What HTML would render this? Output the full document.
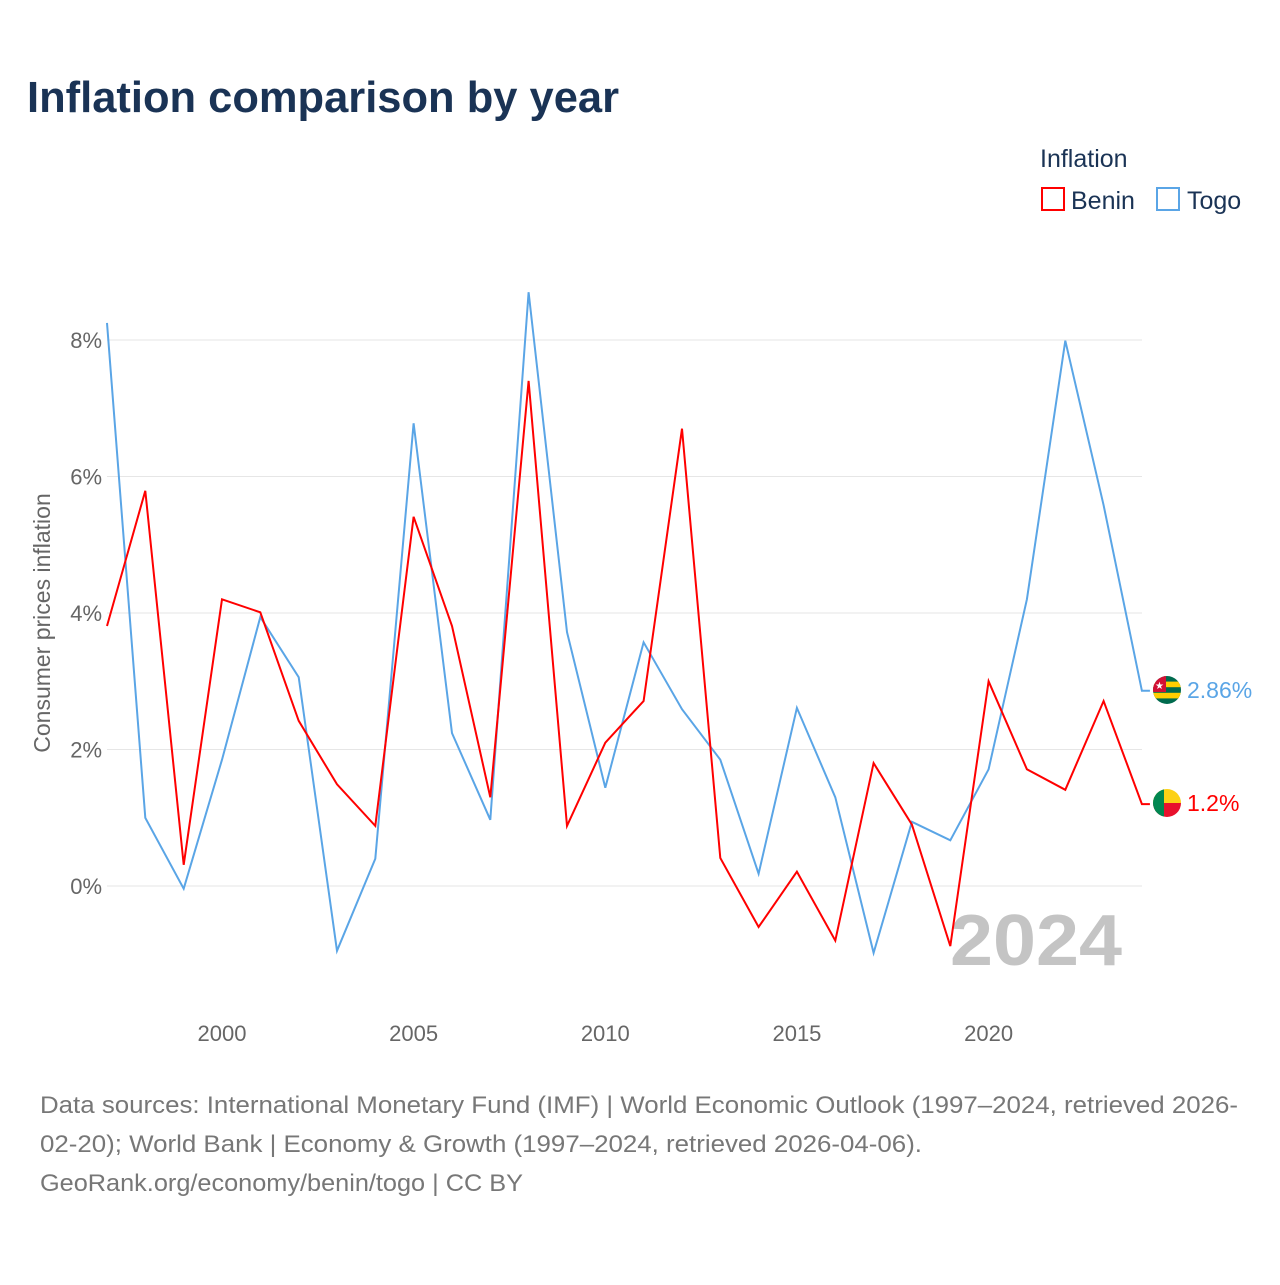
<!DOCTYPE html>
<html><head><meta charset="utf-8"><style>
body{margin:0;background:#fff;font-family:"Liberation Sans",sans-serif}
svg text{font-family:"Liberation Sans",sans-serif}
</style></head><body>
<svg width="1280" height="1280" xmlns="http://www.w3.org/2000/svg">
<text x="27" y="112" font-size="44" font-weight="bold" fill="#1a3355" textLength="592" lengthAdjust="spacingAndGlyphs">Inflation comparison by year</text>
<g>
<text x="1040" y="167" font-size="25" fill="#1a3355">Inflation</text>
<g><rect x="1042" y="188" width="22" height="22" fill="none" stroke="#f00" stroke-width="2"/><text x="1071" y="209" font-size="25" fill="#1a3355">Benin</text></g>
<g><rect x="1157" y="188" width="22" height="22" fill="none" stroke="#5aa5e6" stroke-width="2"/><text x="1187" y="209" font-size="25" fill="#1a3355">Togo</text></g>
</g>
<text transform="translate(50,623) rotate(-90)" text-anchor="middle" font-size="23" fill="#666">Consumer prices inflation</text>
<g id="grid"></g><g id="xt"></g>
<text x="950" y="965" font-size="72" font-weight="bold" fill="#c4c4c4" textLength="172" lengthAdjust="spacingAndGlyphs">2024</text>
<g id="lines"></g>
<g><clipPath id="cT"><circle cx="1167" cy="690" r="14"/></clipPath><g clip-path="url(#cT)"><rect x="1153" y="676" width="28" height="28" fill="#006a4e"/><rect x="1153" y="681.6" width="28" height="5.6" fill="#ffce00"/><rect x="1153" y="692.8" width="28" height="5.6" fill="#ffce00"/><rect x="1153" y="676" width="13" height="16" fill="#d21034"/><text x="1159.5" y="689" font-size="10" fill="#fff" text-anchor="middle">★</text></g></g>
<g><clipPath id="cB"><circle cx="1167" cy="803" r="14"/></clipPath><g clip-path="url(#cB)"><rect x="1153" y="789" width="28" height="14" fill="#fcd116"/><rect x="1153" y="803" width="28" height="14" fill="#e8112d"/><rect x="1153" y="789" width="11" height="28" fill="#008751"/></g></g>
<text x="1187" y="698" font-size="23" fill="#5aa5e6">2.86%</text>
<text x="1187" y="811" font-size="23" fill="#f00">1.2%</text>
<g font-size="24" fill="#777">
<text x="40" y="1113" textLength="1198" lengthAdjust="spacingAndGlyphs">Data sources: International Monetary Fund (IMF) | World Economic Outlook (1997–2024, retrieved 2026-</text>
<text x="40" y="1152" textLength="882" lengthAdjust="spacingAndGlyphs">02-20); World Bank | Economy &amp; Growth (1997–2024, retrieved 2026-04-06).</text>
<text x="40" y="1191" textLength="483" lengthAdjust="spacingAndGlyphs">GeoRank.org/economy/benin/togo | CC BY</text>
</g>
</svg>
<script>
const years=[1997,1998,1999,2000,2001,2002,2003,2004,2005,2006,2007,2008,2009,2010,2011,2012,2013,2014,2015,2016,2017,2018,2019,2020,2021,2022,2023,2024];
const benin=[3.81,5.79,0.31,4.2,4.01,2.42,1.49,0.88,5.41,3.81,1.3,7.4,0.88,2.1,2.71,6.7,0.41,-0.6,0.21,-0.8,1.8,0.9,-0.88,3.0,1.71,1.41,2.71,1.2];
const togo=[8.25,1.0,-0.04,1.85,3.94,3.06,-0.95,0.4,6.78,2.24,0.97,8.7,3.72,1.44,3.57,2.59,1.85,0.18,2.61,1.3,-0.98,0.94,0.67,1.71,4.2,7.99,5.58,2.86];
const yTicks=[0,2,4,6,8];
const xTicks=[2000,2005,2010,2015,2020];
const X=y=>222+(y-2000)*38.33, Y=v=>886-v*68.25;
const NS='http://www.w3.org/2000/svg';
const g=document.getElementById('grid'),xt=document.getElementById('xt'),L=document.getElementById('lines');
yTicks.forEach(t=>{
 const l=document.createElementNS(NS,'line');l.setAttribute('x1',107);l.setAttribute('x2',1142);l.setAttribute('y1',Y(t));l.setAttribute('y2',Y(t));l.setAttribute('stroke','#e6e6e6');
 
 
 g.appendChild(l);
 const tx=document.createElementNS(NS,'text');tx.setAttribute('x',102);tx.setAttribute('y',Y(t)+8);tx.setAttribute('text-anchor','end');tx.setAttribute('font-size','22');tx.setAttribute('fill','#666');tx.textContent=t+'%';
 
 
 g.appendChild(tx);
});
xTicks.forEach(t=>{
 const tx=document.createElementNS(NS,'text');tx.setAttribute('x',X(t));tx.setAttribute('y',1041);tx.setAttribute('text-anchor','middle');tx.setAttribute('font-size','22');tx.setAttribute('fill','#666');tx.textContent=t;
 
 
 xt.appendChild(tx);
});
function line(vals,col,name){
 let d=vals.map((v,i)=>(i?'L':'M')+X(years[i]).toFixed(1)+','+Y(v).toFixed(1)).join('');
 d+='L'+(X(years[years.length-1])+8)+','+Y(vals[vals.length-1]).toFixed(1);
 const p=document.createElementNS(NS,'path');p.setAttribute('d',d);p.setAttribute('fill','none');p.setAttribute('stroke',col);p.setAttribute('stroke-width','2');
 
 
 L.appendChild(p);
}
line(togo,'#5aa5e6','togo-line');
line(benin,'#f00','benin-line');
</script>
</body></html>
